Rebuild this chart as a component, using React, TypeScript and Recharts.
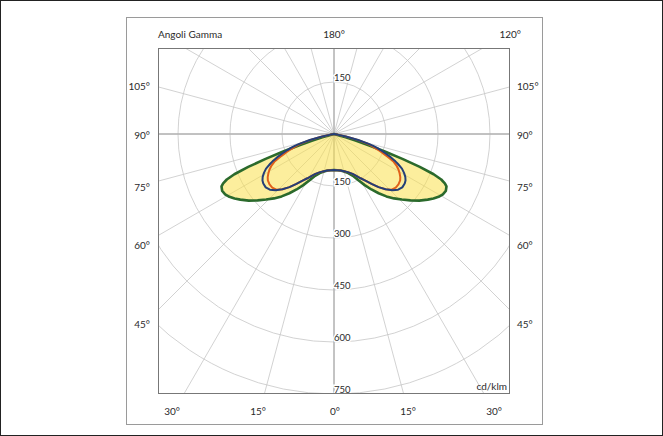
import React from 'react';
import { RadarChart, Radar, PolarGrid, PolarAngleAxis, PolarRadiusAxis } from 'recharts';

// gamma angles (deg from nadir) and luminous intensity in cd/klm, same on both halves
const GAMMA = [0, 5, 10, 15, 20, 25, 28, 31, 34, 37, 40, 43, 46, 49, 52, 55, 57, 59, 61, 63, 65, 66, 67, 68, 69, 70, 71, 72, 73, 74, 76, 78, 80, 85, 90];
const GREEN = [104, 105, 107, 112, 120, 135, 152, 172, 193, 214, 235, 254, 272, 292, 312, 330, 342, 352, 359, 362, 358, 350, 336, 310, 265, 210, 155, 105, 65, 35, 8, 0, 0, 0, 0];
const ORANGE = [104, 105, 107, 111, 117, 127, 137, 149, 162, 180, 200, 218, 231, 236, 236, 233, 228, 221, 213, 203, 190, 178, 168, 157, 147, 137, 127, 118, 108, 99, 70, 35, 10, 0, 0];
const BLUE = [104, 105, 107, 111, 117, 127, 137, 149, 162, 180, 200, 218, 234, 245, 250, 249, 246, 240, 231, 220, 203, 194, 184, 174, 163, 152, 142, 132, 120, 106, 72, 35, 10, 0, 0];

const RADIUS_TICKS = [150, 300, 450, 600, 750];
const TOP_TICKS = [150];
const GRID_STEP = 15;

const LEFT_LABELS = ['105°', '90°', '75°', '60°', '45°'];
const RIGHT_LABELS = ['105°', '90°', '75°', '60°', '45°'];
const BOTTOM_LABELS = ['30°', '15°', '0°', '15°', '30°'];
const TOP_LABELS = ['Angoli Gamma', '180°', '120°'];
const UNIT = 'cd/klm';

// layout
const FRAME = { left: 157, top: 47, width: 352, height: 346 };
const CX = 333 - FRAME.left;
const CY = 133 - FRAME.top;
const R_MAX = 1200;
const OUTER = 416; // 750 cd/klm -> 260px
const SIDE_Y = [85, 134, 186, 244, 323];
const BOTTOM_X = [171, 257, 334, 407, 493];

const data = (() => {
  const rows: { angle: number; green: number; orange: number; blue: number }[] = [];
  GAMMA.forEach((g, i) => rows.push({ angle: g, green: GREEN[i], orange: ORANGE[i], blue: BLUE[i] }));
  rows.push({ angle: 180, green: 0, orange: 0, blue: 0 });
  for (let i = GAMMA.length - 1; i >= 0; i--) {
    rows.push({ angle: 360 - GAMMA[i], green: GREEN[i], orange: ORANGE[i], blue: BLUE[i] });
  }
  return rows;
})();

const gridAngles = Array.from({ length: 360 / GRID_STEP }, (_, k) => -90 + k * GRID_STEP);
const gridRadii = RADIUS_TICKS.map((v) => (v / R_MAX) * OUTER);

const txt: React.CSSProperties = {
  position: 'absolute',
  fontSize: 10,
  color: '#2a2a2a',
  lineHeight: '12px',
  whiteSpace: 'nowrap',
};

const RadiusTick = (props: any) => {
  const { x, y, payload } = props;
  return (
    <g>
      <text x={x} y={y - 4.5} textAnchor="start" dominantBaseline="central" fontSize={9.5} fill="#fff" stroke="#fff" strokeWidth={3}>
        {payload.value}
      </text>
      <text x={x} y={y - 4.5} textAnchor="start" dominantBaseline="central" fontSize={9.5} fill="#2a2a2a">
        {payload.value}
      </text>
    </g>
  );
};

export default function App() {
  return (
    <div
      style={{
        position: 'absolute',
        left: 0,
        top: 0,
        width: 663,
        height: 436,
        boxSizing: 'border-box',
        border: '1px solid #222',
        background: '#fff',
        fontFamily: 'Lato, "Open Sans", sans-serif',
      }}
    >
      <div
        style={{
          position: 'absolute',
          left: 125,
          top: 16,
          width: 417,
          height: 408,
          boxSizing: 'border-box',
          border: '1px solid #9a9a9a',
        }}
      />

      <span style={{ ...txt, left: 157, top: 27 }}>{TOP_LABELS[0]}</span>
      <span style={{ ...txt, left: 333, top: 27, transform: 'translateX(-50%)' }}>{TOP_LABELS[1]}</span>
      <span style={{ ...txt, left: 520, top: 27, transform: 'translateX(-100%)' }}>{TOP_LABELS[2]}</span>

      {LEFT_LABELS.map((t, i) => (
        <span key={'l' + i} style={{ ...txt, left: 149, top: SIDE_Y[i] - 6, transform: 'translateX(-100%)' }}>{t}</span>
      ))}
      {RIGHT_LABELS.map((t, i) => (
        <span key={'r' + i} style={{ ...txt, left: 516, top: SIDE_Y[i] - 6 }}>{t}</span>
      ))}
      {BOTTOM_LABELS.map((t, i) => (
        <span key={'b' + i} style={{ ...txt, left: BOTTOM_X[i], top: 404, transform: 'translateX(-50%)' }}>{t}</span>
      ))}

      <div
        style={{
          position: 'absolute',
          left: FRAME.left,
          top: FRAME.top,
          width: FRAME.width,
          height: FRAME.height,
          overflow: 'hidden',
        }}
      >
        <RadarChart
          width={FRAME.width}
          height={FRAME.height}
          data={data}
          cx={CX}
          cy={CY}
          innerRadius={0}
          outerRadius={OUTER}
          startAngle={-90}
          endAngle={270}
          margin={{ top: 0, right: 0, bottom: 0, left: 0 }}
        >
          <PolarGrid
            gridType="circle"
            polarAngles={gridAngles}
            polarRadius={gridRadii}
            stroke="#c6c6c6"
            strokeWidth={0.8}
          />
          <PolarGrid
            gridType="circle"
            polarAngles={[-90, 0, 90, 180]}
            polarRadius={[]}
            stroke="#b4b4b4"
            strokeWidth={1.4}
          />
          <PolarAngleAxis dataKey="angle" type="number" domain={[0, 360]} tick={false} axisLine={false} />
          <PolarRadiusAxis
            type="number"
            domain={[0, R_MAX]}
            allowDataOverflow
            angle={-90}
            ticks={RADIUS_TICKS}
            tick={<RadiusTick />}
            axisLine={false}
          />
          <PolarRadiusAxis
            radiusAxisId="top"
            type="number"
            domain={[0, R_MAX]}
            allowDataOverflow
            angle={90}
            ticks={TOP_TICKS}
            tick={<RadiusTick />}
            axisLine={false}
          />
          <Radar
            dataKey="green"
            stroke="#2b6a2c"
            strokeWidth={2.6}
            strokeLinejoin="round"
            fill="#f9e04d"
            fillOpacity={0.55}
            dot={false}
            isAnimationActive={false}
          />
          <Radar dataKey="orange" stroke="#e0601a" strokeWidth={2} strokeLinejoin="round" fill="none" dot={false} isAnimationActive={false} />
          <Radar dataKey="blue" stroke="#243f78" strokeWidth={2} strokeLinejoin="round" fill="none" dot={false} isAnimationActive={false} />
        </RadarChart>
        <span style={{ ...txt, right: 3, bottom: 2 }}>{UNIT}</span>
      </div>
      <div
        style={{
          position: 'absolute',
          left: FRAME.left,
          top: FRAME.top,
          width: FRAME.width,
          height: FRAME.height,
          boxSizing: 'border-box',
          border: '1px solid #777',
          pointerEvents: 'none',
        }}
      />
    </div>
  );
}
